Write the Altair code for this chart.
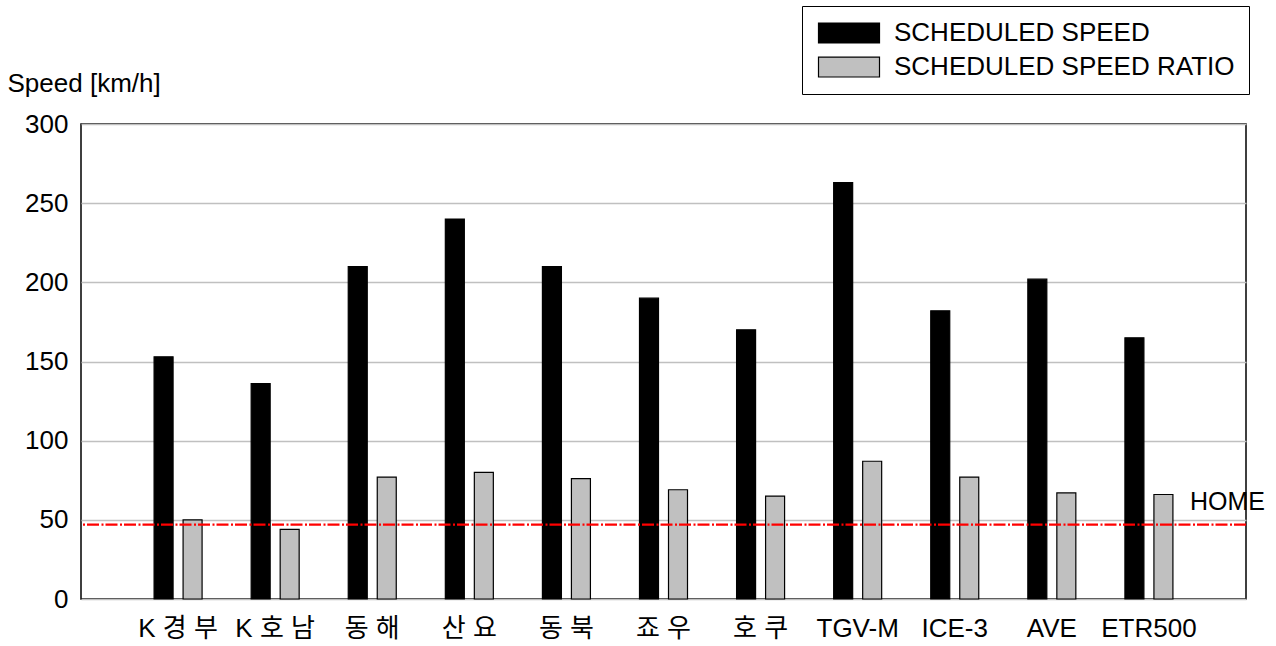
import altair as alt
import pandas as pd

categories = ["K 경 부", "K 호 남", "동 해", "산 요", "동 북", "죠 우", "호 쿠",
              "TGV-M", "ICE-3", "AVE", "ETR500"]
scheduled_speed = [153, 136, 210, 240, 210, 190, 170, 263, 182, 202, 165]
scheduled_ratio = [50, 44, 77, 80, 76, 69, 65, 87, 77, 67, 66]
series_names = ["SCHEDULED SPEED", "SCHEDULED SPEED RATIO"]
series_colors = ["#000000", "#c0c0c0"]
home_value = [47]
home_label = ["HOME"]
y_ticks = [0, 50, 100, 150, 200, 250, 300]

rows = []
for c, s, r in zip(categories, scheduled_speed, scheduled_ratio):
    rows.append({"category": c, "series": series_names[0], "value": s})
    rows.append({"category": c, "series": series_names[1], "value": r})
df = pd.DataFrame(rows)
home_df = pd.DataFrame({"value": home_value, "label": home_label})

FONT = "Liberation Sans, Arial, Noto Sans CJK KR"
W, H = 1165, 475

bars = alt.Chart(df).mark_bar(stroke="black", strokeWidth=1.2).encode(
    x=alt.X("category:N", sort=categories,
            scale=alt.Scale(paddingInner=0, paddingOuter=0.5),
            axis=alt.Axis(title=None, labelAngle=0, ticks=False, domain=False,
                          labelPadding=16, labelFontSize=26, labelFont=FONT,
                          labelColor="black", grid=False)),
    xOffset=alt.XOffset("series:N", sort=series_names,
                        scale=alt.Scale(paddingInner=0.345, paddingOuter=0.846)),
    y=alt.Y("value:Q",
            scale=alt.Scale(domain=[0, 300], nice=False),
            axis=alt.Axis(values=y_ticks, ticks=False, domain=False,
                          labelPadding=13, labelFontSize=26, labelFont=FONT,
                          labelColor="black", grid=True, gridColor="#c0c0c0",
                          gridWidth=1.5,
                          title="Speed [km/h]", titleAngle=0, titleAlign="left",
                          titleBaseline="middle", titleX=-74, titleY=-41,
                          titleFontSize=26, titleFont=FONT, titleFontWeight="normal",
                          titleColor="black")),
    color=alt.Color("series:N", sort=series_names,
                    scale=alt.Scale(domain=series_names, range=series_colors),
                    legend=alt.Legend(title=None, orient="none",
                                      legendX=721, legendY=-118,
                                      symbolType="M-1,-0.95H4.81V0.95H-1Z",
                                      symbolSize=441,
                                      symbolStrokeColor="black",
                                      symbolStrokeWidth=1.2,
                                      symbolOpacity=1,
                                      labelFontSize=26, labelFont=FONT,
                                      labelColor="black", labelOffset=52,
                                      rowPadding=8,
                                      strokeColor="black", padding=14,
                                      labelLimit=600)),
)

home_rule = alt.Chart(home_df).mark_rule(
    color="red", strokeWidth=2.2, strokeDash=[12, 2, 2, 2.5]
).encode(y="value:Q")

home_text = alt.Chart(home_df).mark_text(
    align="left", baseline="middle", fontSize=25, font=FONT, color="black", dy=-23
).encode(x=alt.value(1109), y="value:Q", text="label:N")

chart = alt.layer(bars, home_rule, home_text).properties(
    width=W, height=H,
    autosize=alt.AutoSizeParams(type="none"),
    padding={"left": 81, "top": 124, "right": 30, "bottom": 47},
).configure(
    background="white",
    view=alt.ViewConfig(stroke="black", strokeWidth=1.5),
)

chart.save("out.html", embed_options={"renderer": "svg", "actions": False})
